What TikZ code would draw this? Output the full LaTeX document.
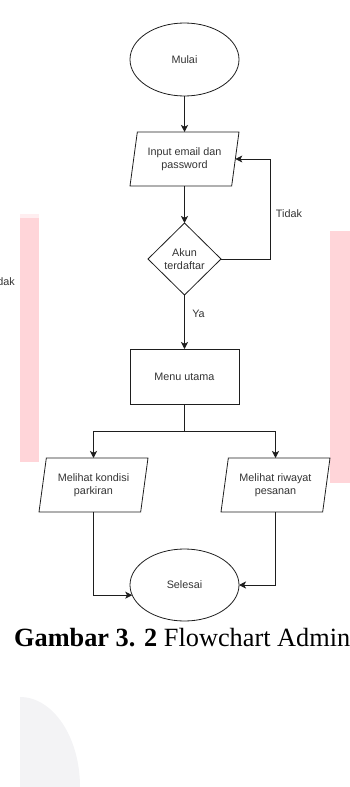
\documentclass[tikz,border=0pt]{standalone}
\usepackage{fontspec}
\setmainfont{Liberation Serif}
\setsansfont{Liberation Sans}
\usetikzlibrary{shapes.geometric,arrows.meta}
\tikzset{every picture/.append style={font=\sffamily\fontsize{10.8}{12.5}\selectfont}}
\definecolor{figink}{HTML}{1E1E1E}
\definecolor{figtext}{HTML}{333333}
\definecolor{figpink}{HTML}{FFD5D9}
\definecolor{figmist}{HTML}{F3F3F5}
\tikzset{
  base/.style={draw=figink,line width=0.8pt,text=figtext,align=center,inner sep=0pt,outer sep=0pt},
  terminal/.style={base,ellipse,minimum width=109pt,minimum height=73pt},
  io/.style={base,trapezium,trapezium left angle=72,trapezium right angle=108,
    trapezium stretches body,minimum width=109pt,minimum height=54pt},
  process/.style={base,rectangle,minimum width=109pt,minimum height=55pt},
  decision/.style={base,diamond,minimum width=73pt,minimum height=72pt},
  line/.style={draw=figink,line width=0.8pt},
  flow/.style={line,-{Stealth[length=7pt,width=7pt,inset=1.8pt]}},
  lbl/.style={text=figtext,inner sep=0pt}
}

\begin{document}
\begin{tikzpicture}[x=1pt,y=-1pt]
    \useasboundingbox (0,0) rectangle (350,787);
    \clip (0,0) rectangle (350,787);
    % faint marks behind the chart
    \fill[figpink!40] (20,214) rectangle (39,218);
    \fill[figpink] (20,218) rectangle (39,462);
    \fill[figpink] (330,231) rectangle (350,483);
    \fill[figmist] (20,787) -- (20,697) .. controls (53,697) and (80,737) .. (80,787) -- cycle;
    \node[lbl,anchor=east] (cut) at (15,282) {Tidak};
    % chart
    \node[terminal] (mulai) at (184.5,59.5) {Mulai};
    \node[io] (login) at (184.5,159) {Input email dan\\password};
    \node[decision] (akun) at (184.5,259) {Akun\\terdaftar};
    \node[process] (menu) at (184.5,376.5) {Menu utama};
    \node[io] (kondisi) at (93.5,485) {Melihat kondisi\\parkiran};
    \node[io] (riwayat) at (275.5,485) {Melihat riwayat\\pesanan};
    \node[terminal,minimum height=72pt] (selesai) at (184.5,585) {Selesai};
    \coordinate (balik) at (270,259);
    \coordinate (cabang) at (184.5,431);
    \draw[flow] (mulai) -- (login);
    \draw[flow] (login) -- (akun);
    \draw[flow] (akun.east) -- (balik) |- (login.east);
    \node[lbl] (tidak) at (289,214) {Tidak};
    \draw[flow] (akun) -- (menu);
    \node[lbl] (ya) at (198.5,314) {Ya};
    \draw[flow] (menu.south) -- (cabang) -| (kondisi.center |- kondisi.north);
    \draw[flow] (cabang) -| (riwayat.center |- riwayat.north);
    \draw[flow] (kondisi.center |- kondisi.south) |- (selesai.191);
    \draw[flow] (riwayat.center |- riwayat.south) |- (selesai.east);
    \node[anchor=base west,inner sep=0pt,font=\rmfamily\fontsize{26.3}{30}\selectfont] (judul) at (14,646)
      {\textbf{Gambar 3. 2} Flowchart Admin};
  \end{tikzpicture}
\end{document}
